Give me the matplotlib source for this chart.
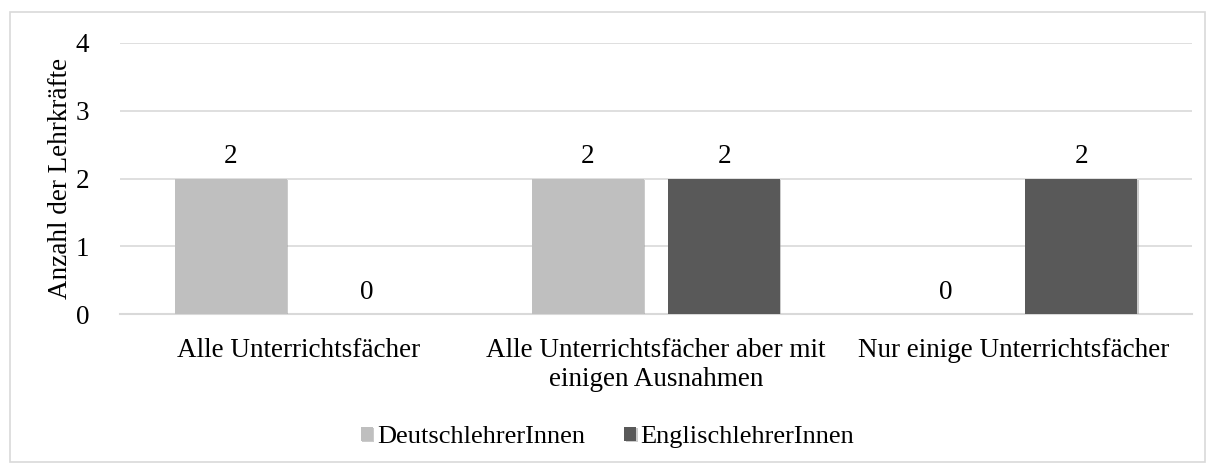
import matplotlib.pyplot as plt
import numpy as np
from matplotlib.patches import Rectangle
import matplotlib.patheffects as pe

plt.rcParams["font.family"] = ["Liberation Serif", "DejaVu Serif"]

categories = ["Alle Unterrichtsfächer",
              "Alle Unterrichtsfächer aber mit\neinigen Ausnahmen",
              "Nur einige Unterrichtsfächer"]
deutsch = [2, 2, 0]
englisch = [0, 2, 2]
series_names = ["DeutschlehrerInnen", "EnglischlehrerInnen"]
colors = ["#bfbfbf", "#595959"]

fs = 19.5
fig = plt.figure(figsize=(12.15, 4.68), dpi=100)
ax = fig.add_axes([120 / 1215, 1 - 314 / 468, 1072 / 1215, 271 / 468])

x = np.arange(len(categories))
w = 0.313
off = w / 2 + 0.034
shadow = [pe.SimplePatchShadow(offset=(1, -1), shadow_rgbFace="#999999", alpha=0.5), pe.Normal()]
for vals, dx, c, name in zip([deutsch, englisch], [-off, off], colors, series_names):
    ax.bar(x + dx, vals, w, color=c, label=name, zorder=3, path_effects=shadow)
    for xi, v in zip(x + dx, vals):
        ax.text(xi, v + 0.14, str(v), ha="center", va="bottom", fontsize=fs)

ax.set_xlim(-0.5, 2.5)
ax.set_ylim(0, 4)
ax.set_yticks([0, 1, 2, 3, 4])
ax.set_xticks(x)
ax.set_xticklabels(categories, fontsize=fs, linespacing=1.25)
ax.tick_params(axis="y", labelsize=fs, length=0, pad=22)
ax.tick_params(axis="x", length=0, pad=17)
ax.grid(axis="y", color="#d9d9d9", linewidth=1.2, zorder=0)
for s in ["top", "right", "left"]:
    ax.spines[s].set_visible(False)
ax.spines["bottom"].set_color("#d9d9d9")
ax.spines["bottom"].set_linewidth(1.5)
ax.set_ylabel("Anzahl der Lehrkräfte", fontsize=fs, labelpad=2)

fig.legend(loc="center", bbox_to_anchor=(0.5, 1 - 437 / 468), ncol=2, frameon=False,
           fontsize=19, handlelength=0.45, handleheight=0.45, handletextpad=0.15,
           columnspacing=1.5)

fig.patches.append(Rectangle((10 / 1215, 6 / 468), 1195 / 1215, 450 / 468, transform=fig.transFigure,
                             fill=False, edgecolor="#d9d9d9", linewidth=1.2))

fig.savefig("out.png", dpi=100)
